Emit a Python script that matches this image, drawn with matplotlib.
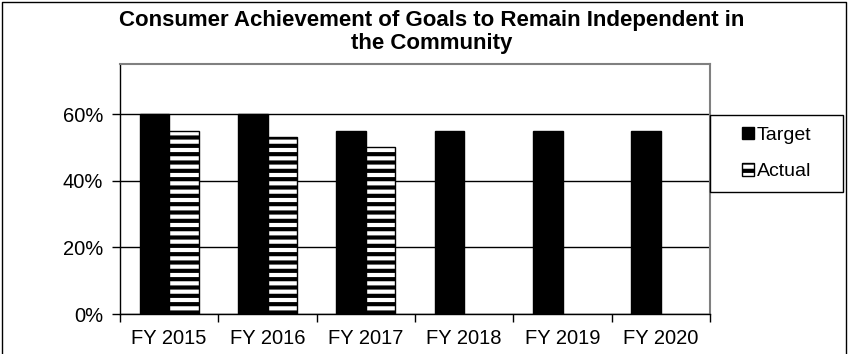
import matplotlib.pyplot as plt
import numpy as np
from matplotlib.patches import Rectangle, Patch
from matplotlib.lines import Line2D

plt.rcParams['font.family'] = ['Liberation Sans', 'DejaVu Sans']
plt.rcParams['hatch.linewidth'] = 3.0

years = ['FY 2015', 'FY 2016', 'FY 2017', 'FY 2018', 'FY 2019', 'FY 2020']
target = [0.60, 0.60, 0.55, 0.55, 0.55, 0.55]
actual = [0.55, 0.53, 0.50]

W, H = 848, 354
fig = plt.figure(figsize=(W / 100, H / 100), dpi=100)

# plot area in pixel terms
left, top, right, bottom = 120, 64, 710, 314
ax = fig.add_axes([left / W, 1 - bottom / H, (right - left) / W, (bottom - top) / H])

x = np.arange(len(years))
bw = 0.3
ax.bar(x - bw / 2, target, bw, color='black', edgecolor='black', linewidth=1, zorder=3)
ax.bar(x[:len(actual)] + bw / 2, actual, bw, color='white', edgecolor='black',
       hatch='--', linewidth=1, zorder=3)

ax.set_xlim(-0.5, len(years) - 0.5)
ax.set_ylim(0, 0.75)
ax.set_yticks([0, 0.2, 0.4, 0.6])
ax.set_yticklabels(['0%', '20%', '40%', '60%'])
ax.yaxis.grid(True, color='black', linewidth=1, zorder=0)

ax.set_xticks(x)
ax.set_xticklabels(years)
ax.set_xticks(np.arange(-0.5, len(years)), minor=True)
ax.tick_params(axis='x', which='major', length=0, pad=11, labelsize=14.5)
ax.tick_params(axis='x', which='minor', length=6, width=1, direction='out')
ax.tick_params(axis='y', length=6, width=1, direction='out', pad=6, labelsize=14.5)

for s in ['top', 'right']:
    ax.spines[s].set_color('#808080')
    ax.spines[s].set_linewidth(1.5)
for s in ['left', 'bottom']:
    ax.spines[s].set_color('black')
    ax.spines[s].set_linewidth(1)

fig.text(432 / W, 1 - 32 / H, 'Consumer Achievement of Goals to Remain Independent in\nthe Community',
         ha='center', va='center', fontsize=16, fontweight='bold', linespacing=1.08)

# legend box to the right of the plot area
lx0, ly0, lx1, ly1 = 710, 115, 843, 192
fig.patches.append(Rectangle((lx0 / W, 1 - ly1 / H), (lx1 - lx0) / W, (ly1 - ly0) / H,
                             transform=fig.transFigure, fill=False, edgecolor='black', linewidth=1))
handles = [Patch(facecolor='black', edgecolor='black'),
           Patch(facecolor='white', edgecolor='black', hatch='--')]
fig.legend(handles, ['Target', 'Actual'], loc='center',
           bbox_to_anchor=((lx0 + lx1) / 2 / W, 1 - (ly0 + ly1) / 2 / H),
           frameon=False, fontsize=14, handlelength=0.6, handleheight=0.6,
           handletextpad=0.15, labelspacing=1.0)

# outer chart border
fig.add_artist(Line2D([2 / W, 2 / W, 846 / W, 846 / W], [0, 1 - 2 / H, 1 - 2 / H, 0],
                      transform=fig.transFigure, color='black', linewidth=1))

fig.savefig('out.png', dpi=100)
